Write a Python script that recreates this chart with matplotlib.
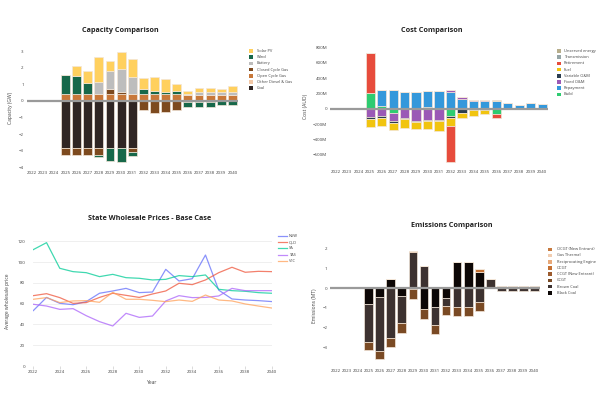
import matplotlib
matplotlib.use('Agg')
import matplotlib.pyplot as plt
from matplotlib.patches import Rectangle
from matplotlib.lines import Line2D
import numpy as np

plt.rcParams['font.family'] = ['Open Sans', 'DejaVu Sans']

years = [str(y) for y in range(2022, 2041)]
year_nums = list(range(2022, 2041))

# ---------------- Capacity (GW) ----------------
cap_labels = ['Coal', 'Other Diesel & Gas', 'Open Cycle Gas', 'Closed Cycle Gas', 'Battery', 'Wind', 'Solar PV']
cap_coal = [0, 0, 0, -2.85, -2.85, -2.85, -2.85, -2.85, -2.85, -2.85, 0, 0, 0, 0, 0, 0, 0, 0, 0]
cap_other = [0] * 19
cap_ocg = [0, 0, 0, 0.4, 0.4, 0.45, 0.4, 0.4, 0.4, 0.4, 0.42, 0.4, 0.4, 0.4, 0.38, 0.38, 0.38, 0.38, 0.38]
cap_ccg = [0, 0, 0, -0.42, -0.4, -0.4, -0.4, 0.3, 0.15, -0.2, -0.55, -0.73, -0.66, -0.55, -0.04, -0.04, -0.04, -0.03, -0.03]
cap_battery = [0, 0, 0, 0, 0, 0, 0.72, 1.13, 1.4, 1.02, 0, 0, 0, 0.05, 0.07, 0.17, 0.17, 0.17, 0.17]
cap_wind = [0, 0, 0, 1.15, 1.09, 0.61, -0.1, -0.75, -0.8, -0.27, 0.3, 0.2, 0.14, 0.15, -0.33, -0.3, -0.3, -0.19, -0.24]
cap_solar = [0, 0, 0, 0, 0.61, 0.77, 1.53, 0.57, 1.0, 1.11, 0.64, 0.85, 0.76, 0.42, 0.15, 0.25, 0.25, 0.19, 0.35]
cap_colors = ['#302624', '#F2C7A5', '#C8783A', '#7D4A1F', '#BDBDBD', '#17684A', '#FFD05E']

# ---------------- Cost (M AUD) ----------------
cost_labels = ['Build', 'Repayment', 'Fixed O&M', 'Variable O&M', 'Fuel', 'Retirement', 'Transmission', 'Unserved energy']
cost_build = [0, 0, 0, 209, 35, -52, 15, 8, 20, 5, -96, -10, 0, 0, -65, 8, 0, -8, 0]
cost_repay = [0, 0, 0, 0, 208, 243, 198, 205, 215, 230, 222, 126, 100, 100, 100, 62, 52, 70, 65]
cost_fixed = [0, 0, 0, -104, -96, -105, -117, -161, -148, -148, 26, 22, 13, 13, 0, 0, 0, 0, 0]
cost_var = [0, 0, 0, -31, -26, -26, -18, -6, -7, -7, -21, -42, -13, -13, 0, 0, 0, 0, 0]
cost_fuel = [0, 0, 0, -100, -104, -95, -117, -93, -115, -141, -109, -74, -83, -61, 0, 0, 0, 0, 0]
cost_retire = [0, 0, 0, 521, 0, 0, 0, 0, 0, 0, -470, 0, 0, 0, -57, 0, 0, 0, 0]
cost_trans = [0] * 19
cost_unserved = [0, 0, 0, 0, 0, 0, 0, 0, 0, 0, 0, 0, 0, 0, 13, 0, 0, 0, 0]
cost_colors = ['#2ECC71', '#3498DB', '#9B59B6', '#2C3E50', '#F1C40F', '#E74C3C', '#95A5A6', '#B7AE8C']

# ---------------- Prices ----------------
price_states = ['NSW', 'QLD', 'SA', 'TAS', 'VIC']
price_nsw = [53.3, 66, 60.3, 59, 62, 70, 72.2, 74.7, 70.6, 71.2, 93, 81.8, 84, 106.8, 73, 64.5, 63.5, 62.9, 62]
price_qld = [67.7, 69.6, 65.8, 60.3, 61, 66, 70, 68, 66, 69.3, 72.2, 79.6, 78.3, 82.8, 89.8, 95, 90.2, 91.1, 90.8]
price_sa = [112, 118.7, 94, 90.8, 89.8, 86, 88.2, 85, 84.4, 82.8, 83.4, 87, 86, 87.6, 73.8, 72.5, 71.9, 70.6, 70]
price_tas = [59.4, 57.7, 54.5, 55.2, 48.4, 42.7, 38.5, 50.7, 46.8, 48.1, 62.6, 67.7, 65.8, 66, 67.4, 74.7, 72.5, 72.5, 72.5]
price_vic = [64.2, 65.8, 61, 62.6, 62.9, 61.3, 70.9, 64.2, 64.2, 63.2, 61.9, 63.5, 62.2, 68.3, 63.5, 62.6, 59.7, 57.7, 55.8]
price_colors = ['#636EFA', '#EF553B', '#00CC96', '#AB63FA', '#FFA15A']

# ---------------- Emissions (MT) ----------------
em_labels = ['Black Coal', 'Brown Coal', 'CCGT', 'CCGT (New Entrant)', 'OCGT', 'Reciprocating Engine', 'Gas Thermal', 'OCGT (New Entrant)']
em_black = [0, 0, 0, -0.82, -0.47, 0.44, -0.4, -0.07, -1.07, -0.94, -0.49, 1.31, 1.31, 0.8, 0, 0.08, 0.08, 0.08, 0.08]
em_brown = [0, 0, 0, -1.88, -2.7, -2.5, -1.38, 1.83, 1.1, -0.92, -0.41, -0.95, -0.97, -0.7, 0.44, -0.17, -0.17, -0.17, -0.17]
em_ccgt = [0, 0, 0, -0.42, -0.42, -0.45, -0.47, -0.47, -0.49, -0.44, -0.47, -0.45, -0.45, -0.46, 0, 0, 0, 0, 0]
em_ccgt_ne = [0] * 19
em_ocgt = [0, 0, 0, 0, 0, 0, 0, 0.04, 0.03, 0, 0, 0, 0, 0.14, 0, 0, 0, 0, 0]
em_recip = [0] * 19
em_gas_thermal = [0] * 19
em_ocgt_ne = [0] * 19
em_colors = ['#0D0706', '#3D3230', '#7A4A24', '#9C5B2E', '#C57032', '#E8A878', '#F1CDB0', '#C77A3F']

W, H = 600, 400
fig = plt.figure(figsize=(6, 4), dpi=100)
fig.patch.set_facecolor('white')

TXT = '#444444'
TICK_FS = 3.2
LEG_FS = 2.9


def rect(x0, y0, x1, y1):
    return [x0 / W, 1 - y1 / H, (x1 - x0) / W, (y1 - y0) / H]


def ftext(x, y, s, **kw):
    fig.text(x / W, 1 - y / H, s, **kw)


def legend_boxes(xm, xt, y0, dy, labels, colors):
    for i, (lab, c) in enumerate(zip(labels, colors)):
        y = y0 + i * dy
        fig.patches.append(Rectangle(((xm - 1.8) / W, 1 - (y + 1.8) / H), 3.6 / W, 3.6 / H,
                                     transform=fig.transFigure, facecolor=c, edgecolor='none'))
        ftext(xt, y, lab, fontsize=LEG_FS, color=TXT, va='center', ha='left')


def stacked(ax, series, colors):
    x = np.arange(len(years))
    pos = np.zeros(len(years))
    neg = np.zeros(len(years))
    for vals, c in zip(series, colors):
        v = np.array(vals, dtype=float)
        bottom = np.where(v >= 0, pos, neg)
        ax.bar(x, v, 0.8, bottom=bottom, color=c, edgecolor='#f3e6d8', linewidth=0.5, zorder=2)
        pos = pos + np.where(v >= 0, v, 0)
        neg = neg + np.where(v < 0, v, 0)
    ax.axhline(0, color='#9a9a9a', lw=1.6, zorder=5)
    ax.set_xlim(-0.5, len(years) - 0.5)
    ax.set_xticks(x)
    ax.set_xticklabels(years)


def style(ax):
    for s in ax.spines.values():
        s.set_visible(False)
    ax.tick_params(axis='both', length=0, labelsize=TICK_FS, labelcolor=TXT, pad=2)


# Capacity
ax1 = fig.add_axes(rect(26.5, 47.9, 238, 168.2))
stacked(ax1, [cap_coal, cap_other, cap_ocg, cap_ccg, cap_battery, cap_wind, cap_solar], cap_colors)
ax1.set_ylim(-4.05, 3.2)
ax1.set_yticks([-4, -3, -2, -1, 0, 1, 2, 3])
ax1.set_yticklabels(['\u22124', '\u22123', '\u22122', '\u22121', '0', '1', '2', '3'])
style(ax1)
ax1.set_ylabel('Capacity (GW)', fontsize=3.6, color=TXT, labelpad=4)
ftext(120, 30, 'Capacity Comparison', fontsize=5.2, color='#222', ha='center', va='center', fontweight='bold')
legend_boxes(251, 257, 51, 6.2, cap_labels[::-1], cap_colors[::-1])

# Cost
ax2 = fig.add_axes(rect(330, 45.8, 548, 167))
stacked(ax2, [cost_build, cost_repay, cost_fixed, cost_var, cost_fuel, cost_retire, cost_trans, cost_unserved], cost_colors)
ax2.set_ylim(-760, 820)
ax2.set_yticks([-600, -400, -200, 0, 200, 400, 600, 800])
ax2.set_yticklabels(['\u2212600M', '\u2212400M', '\u2212200M', '0', '200M', '400M', '600M', '800M'])
style(ax2)
ax2.set_ylabel('Cost (AUD)', fontsize=3.6, color=TXT, labelpad=4)
ftext(432, 30, 'Cost Comparison', fontsize=5.2, color='#222', ha='center', va='center', fontweight='bold')
legend_boxes(558.7, 564, 51, 6.2, cost_labels[::-1], cost_colors[::-1])

# Prices
ax3 = fig.add_axes(rect(33.3, 236.1, 271.7, 366))
for vals, c, lab in zip([price_nsw, price_qld, price_sa, price_tas, price_vic], price_colors, price_states):
    ax3.plot(year_nums, vals, color=c, lw=0.9, alpha=0.75, zorder=3)
ax3.set_xlim(2022, 2040)
ax3.set_ylim(0, 125)
ax3.set_xticks(list(range(2022, 2041, 2)))
ax3.set_yticks([0, 20, 40, 60, 80, 100, 120])
for s in ax3.spines.values():
    s.set_visible(False)
ax3.grid(axis='y', color='#ececec', lw=0.6, zorder=0)
ax3.tick_params(axis='y', length=0, labelsize=TICK_FS, labelcolor=TXT, pad=6)
ax3.tick_params(axis='x', length=2, width=0.5, color='#cccccc', labelsize=TICK_FS, labelcolor=TXT, pad=1)
ax3.set_xlabel('Year', fontsize=3.6, color=TXT, labelpad=4)
ax3.set_ylabel('Average wholesale price', fontsize=3.6, color=TXT, labelpad=5)
ftext(150, 219, 'State Wholesale Prices - Base Case', fontsize=5.2, color='#222', ha='center', va='center', fontweight='bold')
for i, (lab, c) in enumerate(zip(price_states, price_colors)):
    y = 235.7 + i * 6.3
    fig.lines.append(Line2D([278 / W, 287 / W], [1 - y / H, 1 - y / H], transform=fig.transFigure,
                            color=c, lw=0.9, alpha=0.75))
    ftext(289, y, lab, fontsize=LEG_FS, color=TXT, va='center', ha='left')

# Emissions
ax4 = fig.add_axes(rect(330.2, 244.3, 539.8, 366.5))
stacked(ax4, [em_black, em_brown, em_ccgt, em_ccgt_ne, em_ocgt, em_recip, em_gas_thermal, em_ocgt_ne], em_colors)
ax4.set_ylim(-3.95, 2.2)
ax4.set_yticks([-3, -2, -1, 0, 1, 2])
ax4.set_yticklabels(['\u22123', '\u22122', '\u22121', '0', '1', '2'])
style(ax4)
ax4.set_ylabel('Emissions (MT)', fontsize=3.6, color=TXT, labelpad=4)
ftext(452, 226, 'Emissions Comparison', fontsize=5.2, color='#222', ha='center', va='center', fontweight='bold')
legend_boxes(550, 557, 249.3, 6.2, em_labels[::-1], em_colors[::-1])

fig.savefig('out.png', dpi=100, facecolor='white')
